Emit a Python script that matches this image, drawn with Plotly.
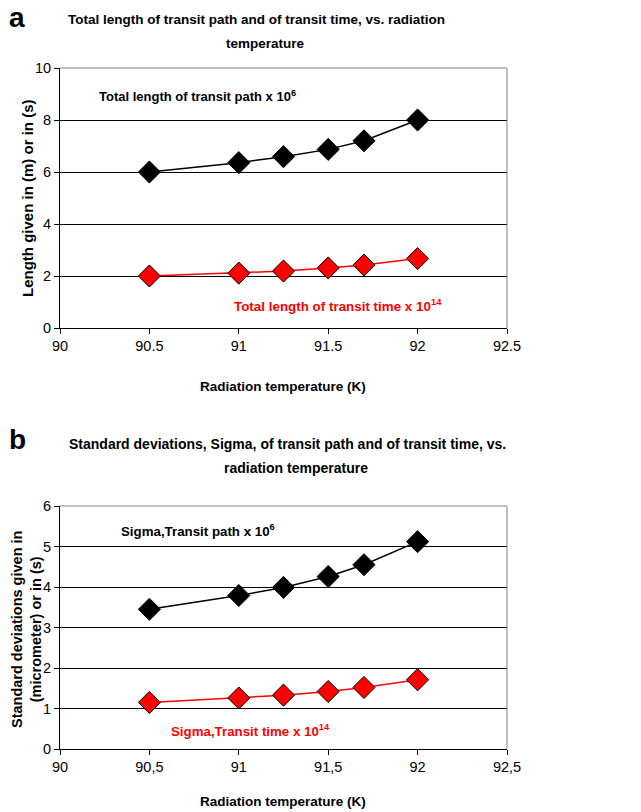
import plotly.graph_objects as go

W, H = 641, 812

temps = [90.5, 91.0, 91.25, 91.5, 91.7, 92.0]
path_len = [6.0, 6.36, 6.59, 6.87, 7.2, 8.0]
time_len = [2.0, 2.11, 2.19, 2.31, 2.42, 2.67]
sigma_path = [3.45, 3.79, 3.99, 4.26, 4.55, 5.12]
sigma_time = [1.15, 1.26, 1.33, 1.42, 1.52, 1.71]

x_ticks = [90, 90.5, 91, 91.5, 92, 92.5]
x_labels_a = ["90", "90.5", "91", "91.5", "92", "92.5"]
x_labels_b = ["90", "90,5", "91", "91,5", "92", "92,5"]

FONT = "Liberation Sans, Arial, sans-serif"

def px(x):
    return x / W

def py(y):
    return 1 - y / H

# plot areas in pixels
XL, XR = 60, 507
A_TOP, A_BOT = 68, 328
B_TOP, B_BOT = 506, 749

fig = go.Figure()

def add_series(x, y, color, xa, ya):
    fig.add_trace(go.Scatter(
        x=x, y=y, mode="lines+markers",
        line=dict(color=color, width=1.5),
        marker=dict(symbol="diamond", size=17, color=color,
                    line=dict(color="black", width=1)),
        xaxis=xa, yaxis=ya, showlegend=False, hoverinfo="x+y"))

add_series(temps, path_len, "black", "x", "y")
add_series(temps, time_len, "#ff0000", "x", "y")
add_series(temps, sigma_path, "black", "x2", "y2")
add_series(temps, sigma_time, "#ff0000", "x2", "y2")

axis_common = dict(showline=True, linecolor="black", linewidth=1,
                   ticks="outside", ticklen=5, tickcolor="black",
                   tickfont=dict(family=FONT, size=14.5, color="black"),
                   zeroline=False, automargin=False, fixedrange=True)

fig.update_layout(
    template="none",
    width=W, height=H, margin=dict(l=0, r=0, t=0, b=0, pad=0),
    paper_bgcolor="white", plot_bgcolor="white",
    xaxis=dict(domain=[px(XL), px(XR)], range=[90, 92.5], anchor="y",
               tickvals=x_ticks, ticktext=x_labels_a, showgrid=False,
               **axis_common),
    yaxis=dict(domain=[py(A_BOT), py(A_TOP)], range=[0, 10], anchor="x",
               tickvals=[0, 2, 4, 6, 8, 10], showgrid=True,
               gridcolor="black", gridwidth=1, **axis_common),
    xaxis2=dict(domain=[px(XL), px(XR)], range=[90, 92.5], anchor="y2",
                tickvals=x_ticks, ticktext=x_labels_b, showgrid=False,
                **axis_common),
    yaxis2=dict(domain=[py(B_BOT), py(B_TOP)], range=[0, 6], anchor="x2",
                tickvals=[0, 1, 2, 3, 4, 5, 6], showgrid=True,
                gridcolor="black", gridwidth=1, **axis_common),
)

# grey frame (top and right)
for top, bot in [(A_TOP, A_BOT), (B_TOP, B_BOT)]:
    fig.add_shape(type="line", xref="paper", yref="paper",
                  x0=px(XL), x1=px(XR), y0=py(top), y1=py(top),
                  line=dict(color="#808080", width=1))
    fig.add_shape(type="line", xref="paper", yref="paper",
                  x0=px(XR), x1=px(XR), y0=py(top), y1=py(bot),
                  line=dict(color="#808080", width=1))

def ann(text, x, y, size, color="black", xanchor="center", angle=0):
    fig.add_annotation(text=text, x=px(x), y=py(y), xref="paper", yref="paper",
                       showarrow=False, xanchor=xanchor, yanchor="middle",
                       textangle=angle,
                       font=dict(family=FONT, size=size, color=color))

ann("<b>a</b>", 7, 17, 28, xanchor="left")
ann("<b>b</b>", 7, 439, 28, xanchor="left")
ann("<b>Total length of transit path and of transit time, vs. radiation</b>", 256, 20, 13.5)
ann("<b>temperature</b>", 265, 43, 13.5)
ann("<b>Standard deviations, Sigma, of transit path and of transit time, vs.</b>", 287, 444, 14)
ann("<b>radiation temperature</b>", 296, 468, 14)

# axis titles
ann("<b>Radiation temperature (K)</b>", 283, 387, 13.5)
ann("<b>Radiation temperature (K)</b>", 283, 801, 13.5)
ann("<b>Length given in (m) or in (s)</b>", 28, 198, 15, angle=-90)
ann("<b>Standard deviations given in<br>(micrometer) or in (s)</b>", 26, 630, 14.5, angle=-90)

# series labels
ann("<b>Total length of transit path x 10<sup>6</sup></b>", 97, 96, 13, xanchor="left")
ann("<b>Total length of transit time x 10<sup>14</sup></b>", 232, 305, 13.4, color="#ff0000", xanchor="left")
ann("<b>Sigma,Transit path x 10<sup>6</sup></b>", 119, 530, 13.3, xanchor="left")
ann("<b>Sigma,Transit time x 10<sup>14</sup></b>", 169, 730, 13.3, color="#ff0000", xanchor="left")

fig.write_html("out.html", config={"displayModeBar": False},
               post_script="document.body.style.margin='0';document.body.style.overflow='hidden';")
